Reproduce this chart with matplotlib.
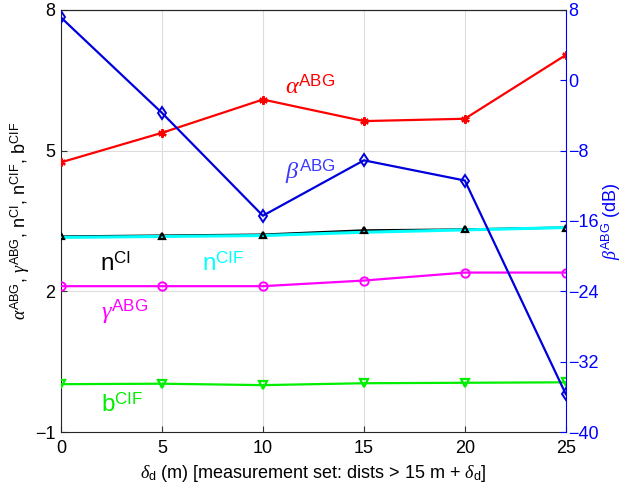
import matplotlib
matplotlib.use("Agg")
import matplotlib.pyplot as plt

plt.rcParams['font.family'] = ['Liberation Sans', 'DejaVu Sans']
plt.rcParams['mathtext.fontset'] = 'custom'
plt.rcParams['mathtext.rm'] = 'Liberation Sans'
plt.rcParams['mathtext.it'] = 'Liberation Serif:italic'
plt.rcParams['mathtext.bf'] = 'Liberation Sans:bold'

delta_d = [0, 5, 10, 15, 20, 25]
alpha_abg = [4.75, 5.38, 6.09, 5.63, 5.68, 7.04]
beta_abg = [7.15, -3.7, -15.4, -9.1, -11.4, -35.7]
n_ci = [3.17, 3.19, 3.21, 3.30, 3.32, 3.36]
n_cif = [3.15, 3.17, 3.19, 3.26, 3.31, 3.36]
gamma_abg = [2.11, 2.11, 2.11, 2.23, 2.40, 2.40]
b_cif = [0.02, 0.03, 0.00, 0.04, 0.05, 0.06]

left_ticks = [-1, 2, 5, 8]
right_ticks = [-40, -32, -24, -16, -8, 0, 8]
x_ticks = [0, 5, 10, 15, 20, 25]

fig = plt.figure(figsize=(6.28, 4.98), dpi=100)
ax = fig.add_axes([0.097, 0.1325, 0.804, 0.8475])
ax2 = ax.twinx()

lw = 1.6
ax.plot(delta_d, alpha_abg, color='red', lw=lw, marker=(6, 2, 0), ms=6, mew=1.6, zorder=3)
ax.plot(delta_d, n_ci, color='black', lw=lw, zorder=3)
ax.plot(delta_d, n_cif, color='cyan', lw=2.2, zorder=3)
ax.plot(delta_d, n_ci, color='black', lw=0, marker='^', ms=5, mfc='none', mew=1.6, zorder=4)
ax.plot(delta_d, gamma_abg, color='magenta', lw=lw, marker='o', ms=6, mfc='none', mew=1.4, zorder=3)
ax.plot(delta_d, b_cif, color='#00ee00', lw=lw, marker='v', ms=6, mfc='none', mew=1.6, zorder=3)
ax2.plot(delta_d, beta_abg, color='#0000dd', lw=lw, marker='d', ms=6, mfc='none', mew=1.4, zorder=3)

ax.set_xlim(0, 25)
ax.set_ylim(-1, 8)
ax.set_xticks(x_ticks)
ax.set_yticks(left_ticks)
ax.grid(True, color='#dddddd', lw=0.8)
ax.set_axisbelow(True)
ax2.set_ylim(-40, 8)
ax2.set_yticks(right_ticks)

ax.tick_params(axis='both', labelsize=13, direction='in', length=4, color='#333333', pad=6)
ax.tick_params(axis='y', pad=4)
ax2.tick_params(axis='y', labelsize=13, direction='in', length=4, colors='blue', pad=2)
for s in ['left', 'bottom', 'top']:
    ax.spines[s].set_color('#262626')
ax2.spines['right'].set_color('blue')
ax2.spines['left'].set_visible(False)
ax2.spines['top'].set_color('#262626')
ax2.spines['bottom'].set_visible(False)
ax.spines['right'].set_visible(False)

ax.set_xlabel(r'$\delta_{\rm d}$ (m) [measurement set: dists > 15 m + $\delta_{\rm d}$]', fontsize=13, labelpad=4)
ax.set_ylabel(r'$\alpha^{\rm ABG}$, $\gamma^{\rm ABG}$, n$^{\rm CI}$, n$^{\rm CIF}$, b$^{\rm CIF}$', fontsize=13, labelpad=2)
ax2.set_ylabel(r'$\beta^{\rm ABG}$ (dB)', fontsize=13, color='blue', labelpad=0)

fs = 17.5
ax.text(11.1, 6.2, r'$\alpha^{\rm ABG}$', color='red', fontsize=fs)
ax2.text(11.1, -11.2, r'$\beta^{\rm ABG}$', color='#3a3aff', fontsize=fs)
ax.text(1.95, 2.43, r'n$^{\rm CI}$', color='black', fontsize=fs)
ax.text(7.0, 2.43, r'n$^{\rm CIF}$', color='cyan', fontsize=fs)
ax.text(2.0, 1.42, r'$\gamma^{\rm ABG}$', color='magenta', fontsize=fs)
ax.text(2.0, -0.57, r'b$^{\rm CIF}$', color='#00ee00', fontsize=fs)

fig.savefig('out.png', dpi=100)
